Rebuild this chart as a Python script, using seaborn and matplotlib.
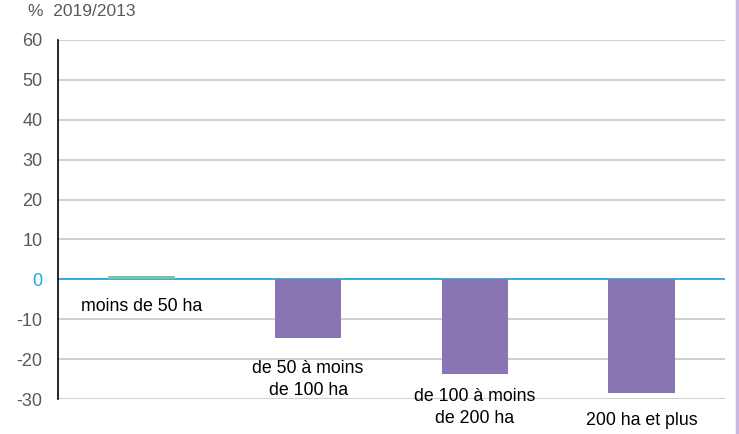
import matplotlib
matplotlib.use("Agg")
import matplotlib.pyplot as plt
import seaborn as sns
import pandas as pd
from matplotlib.lines import Line2D

# data
categories = ["moins de 50 ha", "de 50 à moins\nde 100 ha",
              "de 100 à moins\nde 200 ha", "200 ha et plus"]
values = [0.8, -14.7, -23.7, -28.5]
bar_colors = ["#7dc49b", "#8a75b4", "#8a75b4", "#8a75b4"]
label_y = [-6.8, -25.1, -32.1, -35.3]
yticks = [-30, -20, -10, 0, 10, 20, 30, 40, 50, 60]

df = pd.DataFrame({"cat": categories, "val": values})

sns.set_theme(style="white")
plt.rcParams["font.family"] = ["Liberation Sans", "DejaVu Sans"]

fig = plt.figure(figsize=(7.39, 4.34), dpi=100)
ax = fig.add_axes([58 / 739, 1 - 399 / 434, (725 - 58) / 739, (399 - 40) / 434])

sns.barplot(data=df, x="cat", y="val", hue="cat", palette=bar_colors,
            width=0.4, legend=False, ax=ax, saturation=1, zorder=2,
            linewidth=0)

ax.set_ylim(-30, 60)
ax.set_xlim(-0.5, 3.5)
ax.set_yticks(yticks)
ax.set_yticklabels([str(t) for t in yticks])
for t, lab in zip(yticks, ax.get_yticklabels()):
    lab.set_color("#1fa8e0" if t == 0 else "#595959")
    lab.set_fontsize(13)
ax.tick_params(axis="y", length=0, pad=11)
ax.set_xticks([])
ax.set_xlabel("")
ax.set_ylabel("")

for t in yticks:
    if t != 0:
        ax.axhline(t, color="#c8c8c8", lw=1.2, zorder=0)
ax.axhline(0, color="#1fa8e0", lw=1.3, zorder=1.5)

for s in ["top", "right", "bottom"]:
    ax.spines[s].set_visible(False)
ax.spines["left"].set_color("black")
ax.spines["left"].set_linewidth(1.2)

for i, (cat, ly) in enumerate(zip(categories, label_y)):
    ax.text(i, ly, cat, ha="center", va="center", fontsize=12.8,
            color="black", linespacing=1.35, clip_on=False, zorder=4)

fig.text(28 / 739, 1 - 11 / 434, "%  2019/2013", fontsize=12.5,
         color="#595959", va="center", ha="left")

fig.add_artist(Line2D([737 / 739, 737 / 739], [0, 1], color="#c9b8e0",
                      lw=2.5, transform=fig.transFigure))

fig.savefig("out.png", dpi=100)
